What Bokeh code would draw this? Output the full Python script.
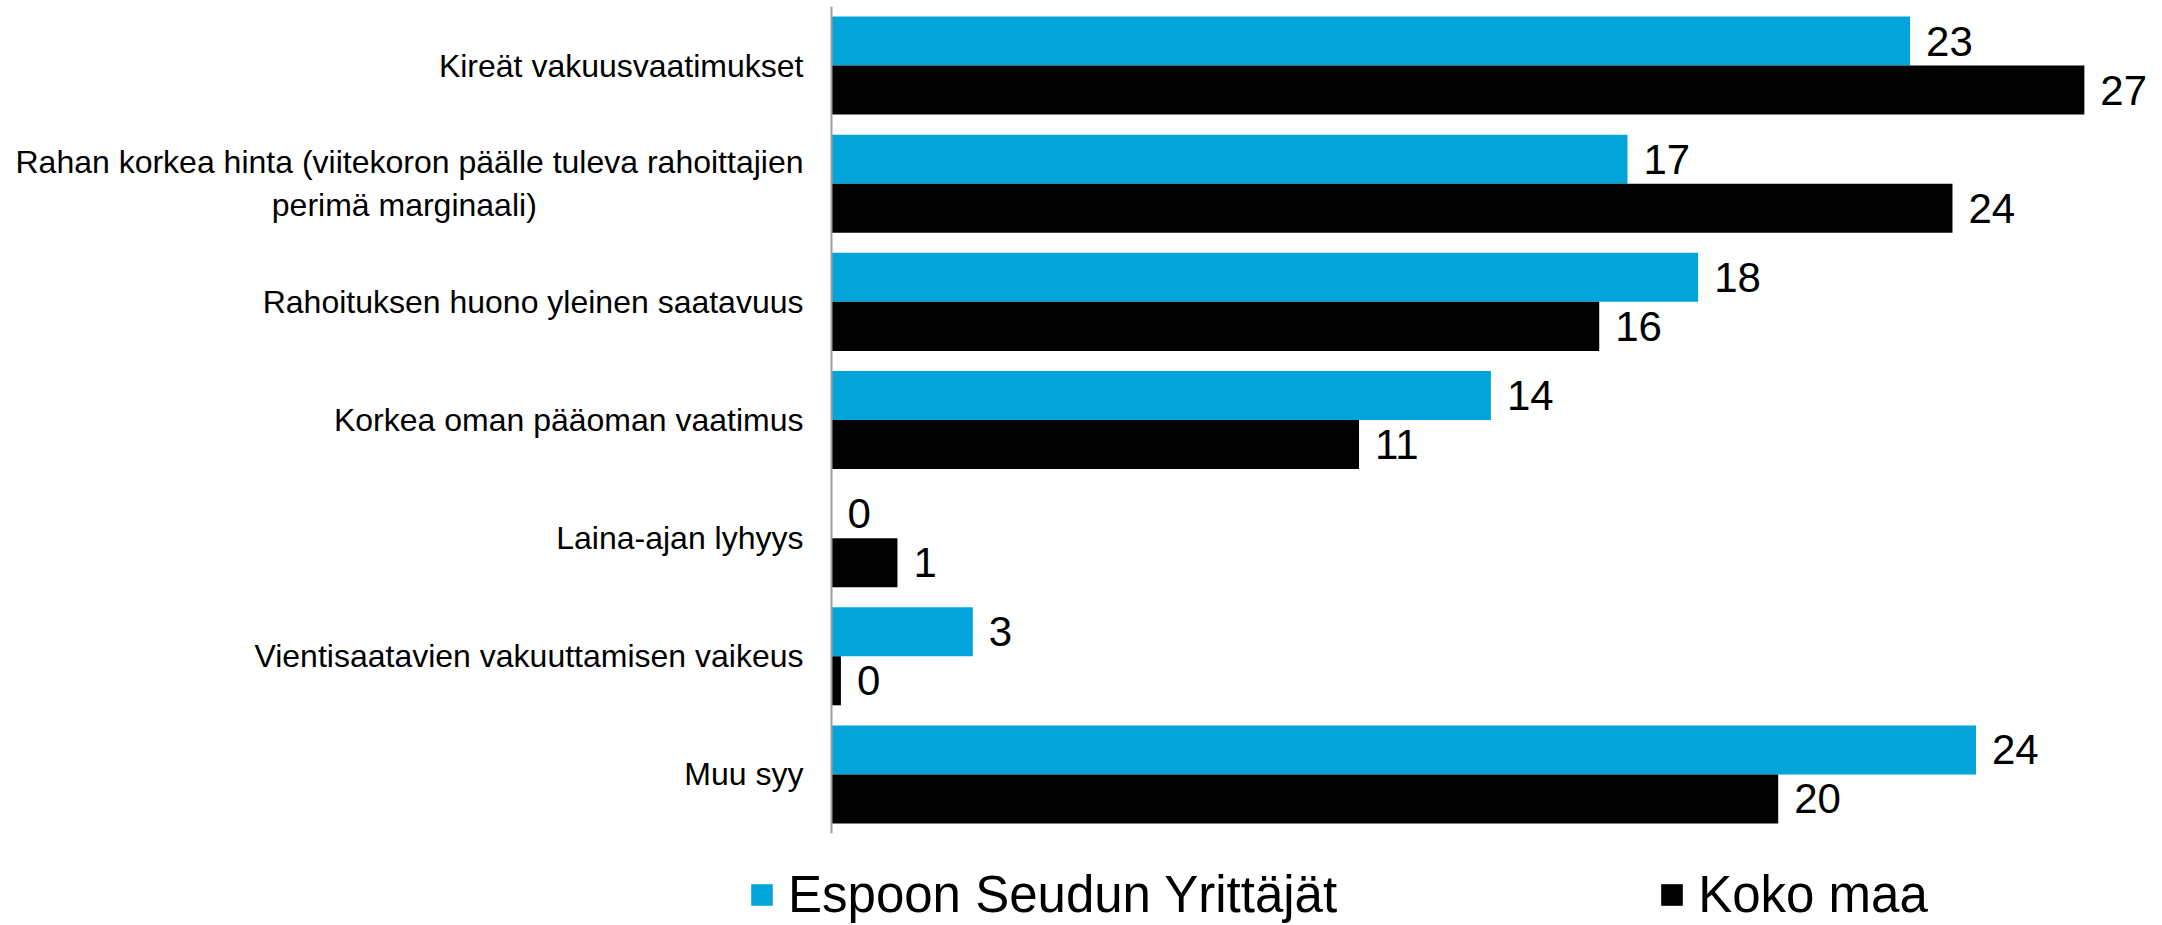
from bokeh.plotting import figure
from bokeh.layouts import column
from bokeh.models import (ColumnDataSource, FactorRange, Range1d, LabelSet, Legend,
                          LegendItem, Span)
from bokeh.transform import dodge
from bokeh.core.properties import value
from bokeh.embed import file_html
from bokeh.resources import INLINE

categories = [
    "Kireät vakuusvaatimukset",
    "Rahan korkea hinta (viitekoron päälle tuleva rahoittajien\nperimä marginaali)",
    "Rahoituksen huono yleinen saatavuus",
    "Korkea oman pääoman vaatimus",
    "Laina-ajan lyhyys",
    "Vientisaatavien vakuuttamisen vaikeus",
    "Muu syy",
]
espoo = [22.9, 16.9, 18.4, 14.0, 0.0, 3.0, 24.3]
koko_maa = [26.6, 23.8, 16.3, 11.2, 1.4, 0.2, 20.1]
series_names = ["Espoon Seudun Yrittäjät", "Koko maa"]

FONT = "Liberation Sans"
BLUE = "#03A4DA"
BLACK = "#000000"

# the second line of the two-line label is centred under the first in the reference;
# trailing no-break spaces shift it left inside the right-aligned label block
factors = [c + "\u00a0" * 30 if "\n" in c else c for c in categories]

src = ColumnDataSource(dict(
    cat=factors,
    espoo=espoo,
    koko=koko_maa,
    espoo_lbl=[f"{v:.0f}" for v in espoo],
    koko_lbl=[f"{v:.0f}" for v in koko_maa],
))

W, H = 2162, 925
H1 = 850                 # chart part; the legend strip takes the rest
FRAME_L = 740            # frame starts left of the zero line so the legend can sit below it
ZERO_X = 831             # screen x of value 0 (the vertical axis line)
FT, FB = 6, 833
UNIT = 47.1              # px per percentage point

p = figure(
    width=W, height=H1,
    y_range=FactorRange(factors=list(reversed(factors)), range_padding=0),
    x_range=Range1d(-(ZERO_X - FRAME_L) / UNIT, (W - ZERO_X) / UNIT),
    output_backend="svg", toolbar_location=None,
    min_border_left=FRAME_L, min_border_right=0, min_border_top=FT, min_border_bottom=H1 - FB,
)
p.outline_line_color = None
p.xgrid.visible = False
p.ygrid.visible = False
p.xaxis.visible = False

yax = p.yaxis[0]
yax.axis_line_color = None
yax.major_tick_line_color = None
yax.minor_tick_line_color = None
yax.major_tick_out = 0
yax.major_tick_in = 0
yax.major_label_standoff = 28 - (ZERO_X - FRAME_L)
yax.major_label_text_font = FONT
yax.major_label_text_font_size = "32px"
yax.major_label_text_color = "#000000"

p.add_layout(Span(location=0, dimension="height", line_color="#A0A0A0", line_width=2))

off = 0.2075
hb = 0.415
p.hbar(y=dodge("cat", off, range=p.y_range), left=0, right="espoo", height=hb,
       source=src, fill_color=BLUE, line_color=None)
p.hbar(y=dodge("cat", -off, range=p.y_range), left=0, right="koko", height=hb,
       source=src, fill_color=BLACK, line_color=None)

for col, lbl, o in (("espoo", "espoo_lbl", off), ("koko", "koko_lbl", -off)):
    ls = LabelSet(x=col, y=dodge("cat", o, range=p.y_range), text=lbl, source=src,
                  x_offset=16, text_align="left", text_baseline="middle",
                  text_font=value(FONT), text_font_size=value("42px"),
                  text_color=value("#000000"))
    p.add_layout(ls)

# legend strip below the chart (its proxy bars lie outside its own view)
H2 = H - H1
lg = figure(
    width=W, height=H2,
    x_range=Range1d(-2, -1), y_range=FactorRange(factors=list(reversed(factors))),
    output_backend="svg", toolbar_location=None,
    min_border_left=FRAME_L, min_border_right=0, min_border_top=0, min_border_bottom=0,
)
lg.axis.visible = False
lg.grid.visible = False
lg.outline_line_color = None
e1 = lg.hbar(y="cat", left=0, right="espoo", height=hb, source=src,
             fill_color=BLUE, line_color=None)
e2 = lg.hbar(y="cat", left=0, right="koko", height=hb, source=src,
             fill_color=BLACK, line_color=None)

legend = Legend(
    items=[LegendItem(label=series_names[0], renderers=[e1], index=0),
           LegendItem(label=series_names[1], renderers=[e2], index=0)],
    orientation="horizontal",
    location=(748 - FRAME_L, 1),
    glyph_width=27, glyph_height=27,
    label_standoff=13, spacing=321,
    padding=0, margin=0,
    border_line_color=None, background_fill_alpha=0,
    label_text_font=FONT, label_text_font_size="51px", label_text_color="#000000",
)
lg.add_layout(legend, "center")

open("out.html", "w").write(file_html(column(p, lg, spacing=0), INLINE))
